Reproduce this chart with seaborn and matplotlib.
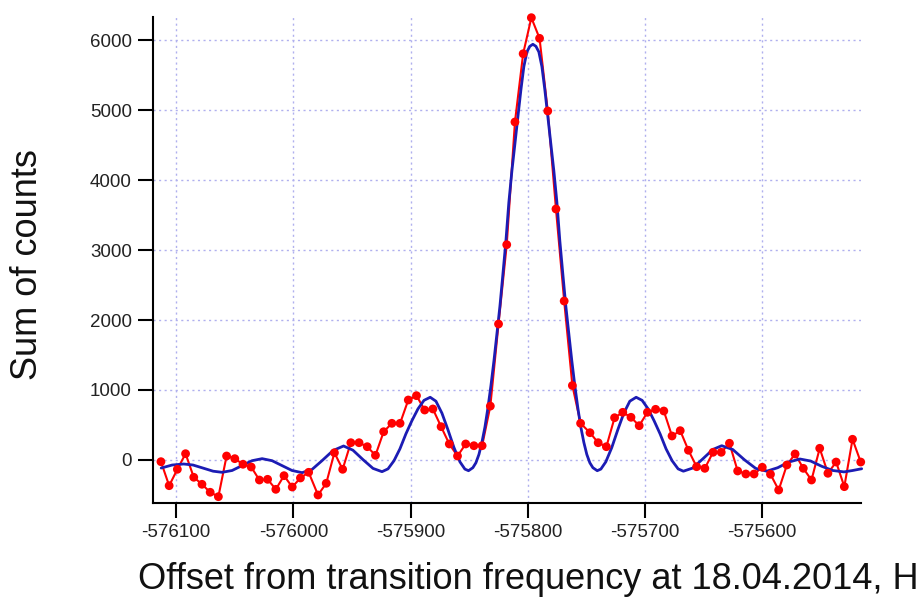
import matplotlib
matplotlib.use("Agg")
import matplotlib.pyplot as plt
import seaborn as sns
import pandas as pd

# measured points (offset in Hz, sum of counts)
freq = [-576113, -576106, -576099, -576092, -576085, -576078, -576071, -576064, -576057, -576050,
        -576043, -576036, -576029, -576022, -576015, -576008, -576001, -575994, -575987, -575979,
        -575972, -575965, -575958, -575951, -575944, -575937, -575930, -575923, -575916, -575909,
        -575902, -575895, -575888, -575881, -575874, -575867, -575860, -575853, -575846, -575839,
        -575832, -575825, -575818, -575811, -575804, -575797, -575790, -575783, -575776, -575769,
        -575762, -575755, -575747, -575740, -575733, -575726, -575719, -575712, -575705, -575698,
        -575691, -575684, -575677, -575670, -575663, -575656, -575649, -575642, -575635, -575628,
        -575621, -575614, -575607, -575600, -575593, -575586, -575579, -575572, -575565, -575558,
        -575551, -575544, -575537, -575530, -575523, -575516]
counts = [-24, -367, -133, 90, -247, -347, -461, -524, 57, 19,
          -61, -100, -286, -276, -419, -224, -386, -257, -176, -500,
          -333, 104, -133, 247, 247, 190, 67, 404, 524, 524,
          857, 919, 714, 729, 476, 229, 57, 229, 204, 204,
          770, 1943, 3076, 4829, 5804, 6319, 6024, 4986, 3586, 2271,
          1064, 524, 390, 247, 190, 604, 681, 610, 490, 681,
          724, 700, 343, 419, 139, -96, -119, 110, 110, 239,
          -157, -200, -200, -104, -204, -429, -71, 86, -119, -286,
          167, -190, -29, -381, 296, -29]

# fitted line shape
fit_freq = [-576112.8, -576103.5, -576093.6, -576085.6, -576077.0, -576068.5, -576060.8, -576052.3,
            -576043.8, -576035.3, -576026.7, -576018.2, -576009.7, -576001.2, -575992.6, -575984.1,
            -575975.6, -575966.2, -575957.2, -575949.2, -575940.6, -575932.1, -575924.4, -575919.3,
            -575914.2, -575909.1, -575904.0, -575898.9, -575893.7, -575888.6, -575883.3, -575878.4,
            -575873.3, -575868.2, -575863.0, -575857.9, -575853.7, -575850.6, -575846.9, -575844.3,
            -575841.7, -575839.2, -575836.6, -575834.1, -575831.5, -575828.9, -575826.4, -575823.8,
            -575821.3, -575818.7, -575816.2, -575813.6, -575811.0, -575808.5, -575805.9, -575803.4,
            -575800.8, -575798.3, -575795.7, -575793.1, -575790.6, -575788.0, -575785.5, -575782.9,
            -575780.4, -575777.8, -575775.2, -575772.7, -575770.1, -575767.6, -575765.0, -575762.5,
            -575759.9, -575757.3, -575754.8, -575752.2, -575749.7, -575747.1, -575744.5, -575740.8,
            -575737.7, -575733.5, -575728.4, -575723.2, -575718.1, -575713.0, -575707.6, -575702.5,
            -575697.4, -575692.3, -575687.2, -575682.1, -575676.9, -575671.8, -575667.3, -575659.3,
            -575650.8, -575642.2, -575634.6, -575625.2, -575615.0, -575605.6, -575596.2, -575586.8,
            -575577.5, -575567.8, -575558.7, -575549.3, -575539.9, -575530.3, -575522.9, -575515.2]
fit_counts = [-115, -72, -57, -72, -116, -160, -176, -150,
              -80, -10, 19, -10, -80, -150, -181, -135,
              -10, 135, 200, 140, 5, -120, -167, -127,
              -11, 160, 374, 561, 731, 852, 896, 840,
              670, 434, 177, -27, -130, -153, -110, -40,
              80, 250, 470, 740, 1060, 1420, 1800, 2200,
              2650, 3130, 3680, 4130, 4520, 4900, 5290, 5620,
              5830, 5910, 5939, 5910, 5830, 5620, 5290, 4900,
              4520, 4130, 3680, 3130, 2650, 2200, 1800, 1420,
              1060, 740, 470, 250, 80, -40, -110, -153,
              -130, -27, 177, 434, 670, 840, 896, 852,
              731, 561, 374, 160, -11, -127, -160, -115,
              15, 150, 204, 150, 0, -120, -160, -110,
              -30, 14, -15, -90, -150, -170, -150, -125]

x_ticks = [-576100, -576000, -575900, -575800, -575700, -575600]
x_tick_labels = ["-576100", "-576000", "-575900", "-575800", "-575700", "-575600"]
y_ticks = [0, 1000, 2000, 3000, 4000, 5000, 6000]
y_tick_labels = ["0", "1000", "2000", "3000", "4000", "5000", "6000"]

sns.set_style("white")
plt.rcParams["font.family"] = ["Liberation Sans", "DejaVu Sans"]
plt.rcParams["axes.unicode_minus"] = False

data = pd.DataFrame({"freq": freq, "counts": counts})
fit = pd.DataFrame({"freq": fit_freq, "counts": fit_counts})

fig = plt.figure(figsize=(9.19, 5.97), dpi=100)
ax = fig.add_axes([0.1662, 0.1575, 0.7704, 0.8137])

sns.lineplot(data=data, x="freq", y="counts", color="#ff0000", lw=1.5, ax=ax,
             estimator=None, sort=False, zorder=3, clip_on=False)
sns.lineplot(data=fit, x="freq", y="counts", color="#1c1cb4", lw=2.0, ax=ax,
             estimator=None, sort=False, zorder=4, clip_on=False)
sns.scatterplot(data=data, x="freq", y="counts", color="#ff0000", s=40, edgecolor="none",
                ax=ax, zorder=5, clip_on=False)

ax.set_xlim(-576120, -575516)
ax.set_ylim(-614, 6326)
ax.set_xticks(x_ticks)
ax.set_xticklabels(x_tick_labels)
ax.set_yticks(y_ticks)
ax.set_yticklabels(y_tick_labels)
ax.set_xlabel("")
ax.set_ylabel("")

ax.grid(True, color="#b0b0ee", linestyle=(0, (1.5, 2.5)), lw=1)
ax.set_axisbelow(True)
for side in ["top", "right"]:
    ax.spines[side].set_visible(False)
for side in ["left", "bottom"]:
    ax.spines[side].set_color("black")
    ax.spines[side].set_linewidth(1.5)
ax.tick_params(direction="out", length=11, width=1.5, labelsize=13.5, pad=4,
               colors="black", left=True, bottom=True)
for lbl in ax.get_xticklabels() + ax.get_yticklabels():
    lbl.set_color("#222222")

# the reference image ends right after the "H"
fig.text(138 / 919, 1 - 589 / 597, "Offset from transition frequency at 18.04.2014, H",
         fontsize=26, ha="left", va="baseline", color="#111111")
fig.text(28 / 919, 1 - 265 / 597, "Sum of counts", fontsize=26, rotation=90,
         ha="center", va="center", color="#111111")

fig.savefig("out.png", dpi=100)
